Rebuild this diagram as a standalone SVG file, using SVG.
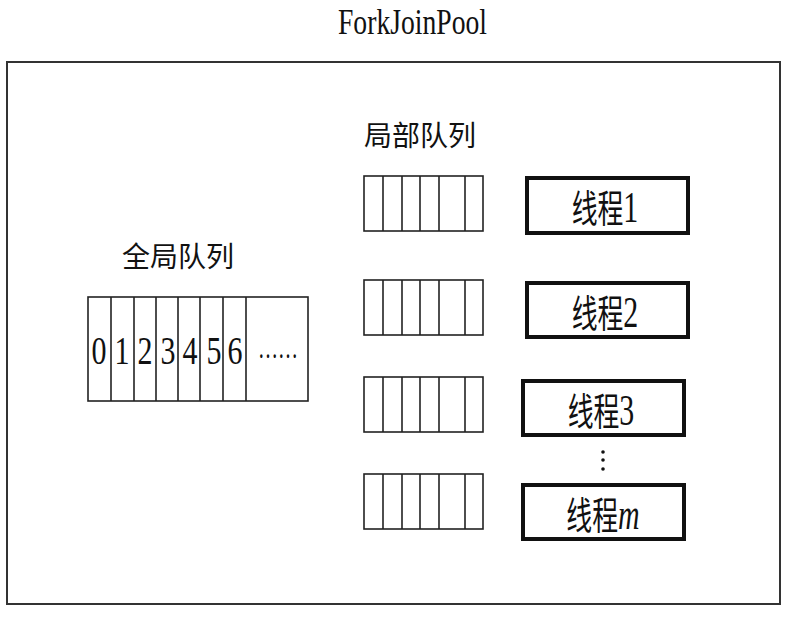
<svg xmlns="http://www.w3.org/2000/svg" width="794" height="620" viewBox="0 0 794 620">
<style>
.frame{fill:none;stroke:#333;stroke-width:2}
.q{fill:#fff;stroke:#222;stroke-width:1.6}
.div{stroke:#222;stroke-width:1.6}
.th{fill:#fff;stroke:#111;stroke-width:4}
.cjk{font-family:"Noto Sans CJK SC","Noto Sans",sans-serif;fill:#111}
.ser{font-family:"Liberation Serif",serif;fill:#111}
.num{font-family:"Liberation Serif",serif;font-size:44px}
.dig{font-family:"Liberation Serif",serif;font-size:40px;fill:#111;text-anchor:middle}
</style>
<rect width="794" height="620" fill="#fff"/>
<g id="pool">
<rect class="frame" x="7" y="62" width="773" height="542"/>
<text class="ser" x="338" y="34" font-size="36" textLength="149" lengthAdjust="spacingAndGlyphs">ForkJoinPool</text>
</g>
<g id="global-queue">
<text class="cjk" x="178" y="267" font-size="28" text-anchor="middle">全局队列</text>
<rect class="q" x="88" y="297" width="220" height="104"/>
<path class="div" d="M111 297V401M134 297V401M156 297V401M178 297V401M200 297V401M223 297V401M246 297V401"/>
<g transform="translate(0,364)">
<text class="dig" transform="translate(99,0) scale(0.75,1)">0</text>
<text class="dig" transform="translate(122,0) scale(0.75,1)">1</text>
<text class="dig" transform="translate(145,0) scale(0.75,1)">2</text>
<text class="dig" transform="translate(168,0) scale(0.75,1)">3</text>
<text class="dig" transform="translate(190,0) scale(0.75,1)">4</text>
<text class="dig" transform="translate(214,0) scale(0.75,1)">5</text>
<text class="dig" transform="translate(235,0) scale(0.75,1)">6</text>
</g>
<text class="ser" x="258" y="358" font-size="32" textLength="40" lengthAdjust="spacingAndGlyphs">……</text>
</g>
<g id="local-queues">
<text class="cjk" x="420" y="146" font-size="28" text-anchor="middle">局部队列</text>
<g id="lq1">
<rect class="q" x="364" y="176" width="119" height="55"/>
<path class="div" d="M383 176V231M402 176V231M420 176V231M439 176V231M465 176V231"/>
</g>
<g id="lq2">
<rect class="q" x="364" y="280" width="119" height="55"/>
<path class="div" d="M383 280V335M402 280V335M420 280V335M439 280V335M465 280V335"/>
</g>
<g id="lq3">
<rect class="q" x="364" y="377" width="119" height="55"/>
<path class="div" d="M383 377V432M402 377V432M420 377V432M439 377V432M465 377V432"/>
</g>
<g id="lq4">
<rect class="q" x="364" y="474" width="119" height="55"/>
<path class="div" d="M383 474V529M402 474V529M420 474V529M439 474V529M465 474V529"/>
</g>
</g>
<g id="thread1">
<rect class="th" x="527" y="178" width="161" height="55"/>
<text class="cjk" font-size="38" text-anchor="middle" transform="translate(605,222) scale(0.68,1)">线程<tspan class="num">1</tspan></text>
</g>
<g id="thread2">
<rect class="th" x="527" y="283" width="161" height="54"/>
<text class="cjk" font-size="38" text-anchor="middle" transform="translate(605,327) scale(0.68,1)">线程<tspan class="num">2</tspan></text>
</g>
<g id="thread3">
<rect class="th" x="523" y="381" width="161" height="54"/>
<text class="cjk" font-size="38" text-anchor="middle" transform="translate(601,425) scale(0.68,1)">线程<tspan class="num">3</tspan></text>
</g>
<g id="dots">
<circle cx="603" cy="452" r="1.8" fill="#111"/>
<circle cx="603" cy="460" r="1.8" fill="#111"/>
<circle cx="603" cy="469" r="1.8" fill="#111"/>
</g>
<g id="threadm">
<rect class="th" x="523" y="485" width="161" height="54"/>
<text class="cjk" font-size="38" text-anchor="middle" transform="translate(603,529) scale(0.68,1)">线程<tspan class="num" font-style="italic">m</tspan></text>
</g>
<g id="connectors"></g>
</svg>
